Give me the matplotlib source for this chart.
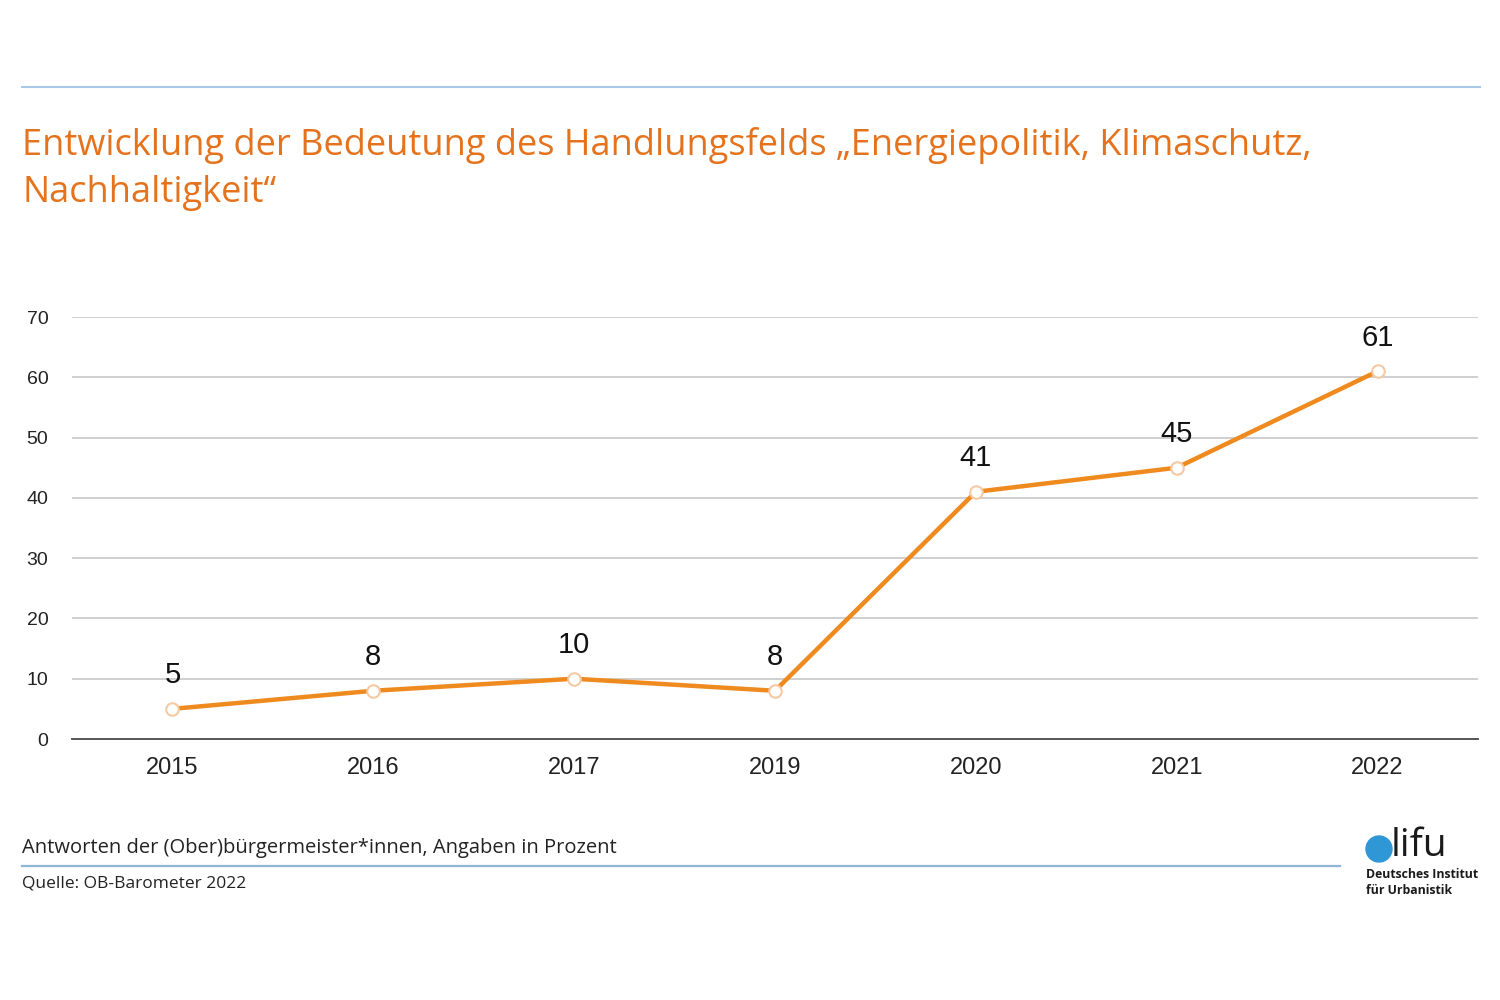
import matplotlib
matplotlib.use("Agg")
import matplotlib.pyplot as plt
from matplotlib.patches import Ellipse
from matplotlib.lines import Line2D

years = ["2015", "2016", "2017", "2019", "2020", "2021", "2022"]
values = [5, 8, 10, 8, 41, 45, 61]
yticks = [0, 10, 20, 30, 40, 50, 60, 70]

title = "Entwicklung der Bedeutung des Handlungsfelds \u201eEnergiepolitik, Klimaschutz,\nNachhaltigkeit\u201c"
note = "Antworten der (Ober)bürgermeister*innen, Angaben in Prozent"
source = "Quelle: OB-Barometer 2022"

ORANGE = "#ef8a1f"
TITLE_ORANGE = "#e5731d"
BLUE = "#a9c8e6"

plt.rcParams['font.family'] = ['Liberation Sans', 'DejaVu Sans']

fig = plt.figure(figsize=(15, 10), dpi=100)
ax = fig.add_axes([0.048, 0.261, 0.9373, 0.422])

x = list(range(len(years)))
ax.plot(x, values, color=ORANGE, lw=3.2, zorder=3, solid_joinstyle='round')
ax.plot(x, values, ls='none', marker='o', ms=9, mfc='white', mec='#f6c9a3', mew=1.5, zorder=4)
for xi, v in zip(x, values):
    ax.annotate(str(v), (xi, v), xytext=(0, 14), textcoords='offset points',
                ha='center', va='bottom', fontsize=21, color='#111111', clip_on=False)

ax.set_xlim(-0.5, len(years) - 0.5)
ax.set_ylim(0, 70)
ax.set_yticks(yticks)
ax.set_yticklabels([str(t) for t in yticks], fontsize=14, color='#222222')
ax.set_xticks(x)
ax.set_xticklabels(years, fontsize=17, color='#222222')
ax.tick_params(axis='both', length=0)
ax.tick_params(axis='y', pad=17)
ax.tick_params(axis='x', pad=13)
ax.yaxis.grid(True, color='#cfcfcf', lw=1.4)
ax.set_axisbelow(True)
for s in ['top', 'right', 'left']:
    ax.spines[s].set_visible(False)
ax.spines['bottom'].set_color('#555555')
ax.spines['bottom'].set_linewidth(1.4)
ax.spines['bottom'].set_zorder(2)

# Decorations
fig.add_artist(Line2D([22/1500, 1480/1500], [1-87/1000]*2, color=BLUE, lw=1.5))
fig.text(22/1500, 1-127/1000, title, color=TITLE_ORANGE, fontsize=26, va='top', ha='left',
         family=['Open Sans', 'DejaVu Sans'], linespacing=1.42)
fig.text(22/1500, 1-848/1000, note, fontsize=14.5, color='#222222', va='center', ha='left',
         family=['Open Sans', 'DejaVu Sans'])
fig.add_artist(Line2D([22/1500, 1340/1500], [1-866/1000]*2, color='#8fb6d6', lw=1.6))
fig.text(22/1500, 1-884/1000, source, fontsize=12.5, color='#222222', va='center', ha='left',
         family=['Open Sans', 'DejaVu Sans'])

# logo
fig.add_artist(Ellipse((1379/1500, 1-849/1000), 26/1500, 26/1000, transform=fig.transFigure,
                       color='#2f97d6', zorder=5))
fig.text(1391/1500, 1-846/1000, "lifu", fontsize=28, color='#1a1a1a', va='center', ha='left',
         family=['Open Sans', 'DejaVu Sans'])
fig.text(1366/1500, 1-875/1000, "Deutsches Institut", fontsize=8.8, fontweight='bold',
         color='#1a1a1a', va='center', ha='left', family=['Open Sans', 'DejaVu Sans'])
fig.text(1366/1500, 1-890/1000, "für Urbanistik", fontsize=8.8, fontweight='bold',
         color='#1a1a1a', va='center', ha='left', family=['Open Sans', 'DejaVu Sans'])

fig.savefig("out.png", dpi=100, facecolor='white')
